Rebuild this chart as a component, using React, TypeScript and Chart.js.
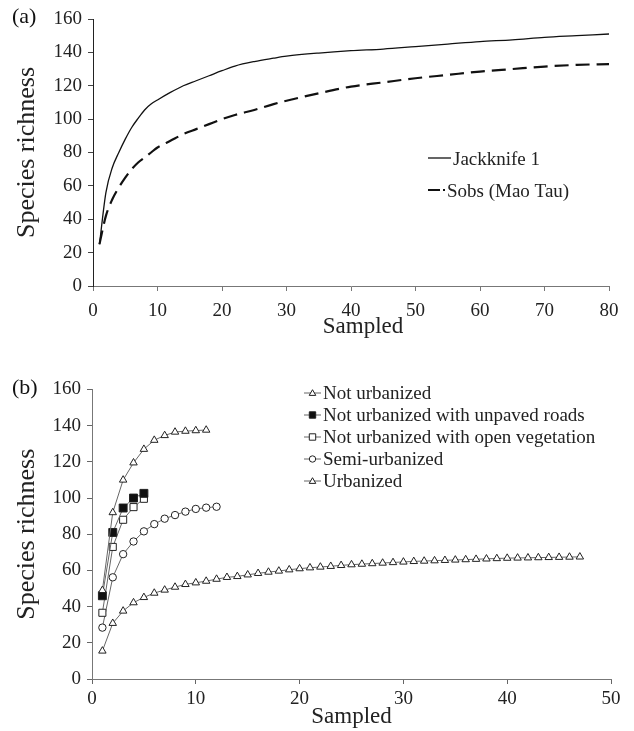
import React, { useEffect, useRef } from 'react';
import { Chart, registerables } from 'chart.js';
Chart.register(...registerables);

const FONT = "'Liberation Serif', 'Times New Roman', serif";

// ---------- Panel (a) ----------
const jackX = [1, 2, 3, 4, 5, 6, 7, 8, 9, 10, 12, 14, 16, 18, 20, 22, 25, 28, 30, 35, 40, 45, 50, 55, 60, 65, 70, 75, 80];
const jackY = [25, 56, 71, 80, 88, 95, 100.5, 105.5, 109, 111.5, 116, 120, 123, 126, 129, 131.8, 134.5, 136.5, 137.7, 139.6, 141, 142, 143.5, 145, 146.5, 147.5, 149, 150, 151];
const sobsX = [1, 2, 3, 4, 5, 6, 7, 8, 9, 10, 12, 14, 16, 18, 20, 22, 25, 28, 30, 35, 40, 45, 50, 55, 60, 65, 70, 75, 80];
const sobsY = [25, 42, 52, 59, 65, 70, 74, 77, 80, 83, 87, 91, 94, 97, 100, 102.5, 105.5, 109, 111, 115.5, 119.5, 122, 124.5, 126.5, 128.5, 130, 131.5, 132.5, 133];
const legendA = ['Jackknife 1', 'Sobs (Mao Tau)'];
const xTitle = 'Sampled';
const yTitle = 'Species richness';

// ---------- Panel (b) ----------
const notUrbX = [1, 2, 3, 4, 5, 6, 7, 8, 9, 10, 11];
const notUrbY = [49, 92, 110, 119.5, 127, 132, 134.6, 136.5, 137, 137.3, 137.6];
const unpavedX = [1, 2, 3, 4, 5];
const unpavedY = [46, 81, 94.5, 100, 102.6];
const openVegX = [1, 2, 3, 4, 5];
const openVegY = [36.6, 73, 88, 95, 99.6];
const semiX = [1, 2, 3, 4, 5, 6, 7, 8, 9, 10, 11, 12];
const semiY = [28.4, 56.2, 69, 76, 81.6, 85.6, 88.6, 90.6, 92.5, 94, 94.7, 95.2];
const urbX = [1, 2, 3, 4, 5, 6, 7, 8, 9, 10, 11, 12, 13, 14, 15, 16, 17, 18, 19, 20, 21, 22, 23, 24, 25, 26, 27, 28, 29, 30, 31, 32, 33, 34, 35, 36, 37, 38, 39, 40, 41, 42, 43, 44, 45, 46, 47];
const urbY = [15.5, 30.8, 37.6, 42.2, 45.1, 47.5, 49.2, 50.8, 52.3, 53.2, 54.1, 55.2, 56.2, 56.7, 57.6, 58.4, 59.1, 59.7, 60.4, 61, 61.5, 61.9, 62.3, 62.8, 63.2, 63.5, 63.8, 64.1, 64.4, 64.7, 65, 65.2, 65.4, 65.6, 65.8, 66, 66.2, 66.4, 66.6, 66.8, 66.9, 67, 67.1, 67.2, 67.3, 67.4, 67.5];
const legendB = [
  'Not urbanized',
  'Not urbanized with unpaved roads',
  'Not urbanized with open vegetation',
  'Semi-urbanized',
  'Urbanized',
];

const pts = (xs: number[], ys: number[]) => xs.map((x, i) => ({ x, y: ys[i] }));

function axisCommon(extra: any) {
  return {
    type: 'linear',
    ticks: { color: '#222', font: { family: FONT, size: 19 }, maxRotation: 0, ...extra.ticks },
    grid: { drawOnChartArea: false, drawTicks: true, tickLength: 5, color: '#666', ...extra.grid },
    border: { display: true, color: '#777', width: 1, ...extra.border },
    title: { display: true, color: '#222', font: { family: FONT, size: 23 }, ...extra.title },
    min: extra.min,
    max: extra.max,
    afterFit: extra.afterFit,
  };
}

function drawMarker(ctx: CanvasRenderingContext2D, kind: string, x: number, y: number, s: number, fill: string) {
  ctx.save();
  ctx.beginPath();
  if (kind === 'triangle') {
    ctx.moveTo(x, y - s);
    ctx.lineTo(x + s * 0.866, y + s * 0.5);
    ctx.lineTo(x - s * 0.866, y + s * 0.5);
    ctx.closePath();
  } else if (kind === 'rect') {
    ctx.rect(x - s, y - s, 2 * s, 2 * s);
  } else {
    ctx.arc(x, y, s, 0, Math.PI * 2);
  }
  ctx.fillStyle = fill;
  ctx.fill();
  ctx.strokeStyle = '#222';
  ctx.lineWidth = 1;
  ctx.stroke();
  ctx.restore();
}

export default function App() {
  const refA = useRef<HTMLCanvasElement>(null);
  const refB = useRef<HTMLCanvasElement>(null);

  useEffect(() => {
    const legendPluginA = {
      id: 'legendA',
      afterDraw(chart: any) {
        const ctx = chart.ctx as CanvasRenderingContext2D;
        const a = chart.chartArea;
        ctx.save();
        ctx.fillStyle = '#111';
        ctx.font = `22px ${FONT}`;
        ctx.textBaseline = 'middle';
        ctx.textAlign = 'left';
        ctx.fillText('(a)', 12, 17);
        // x axis title (slightly right of centre, as in the original)
        ctx.fillStyle = '#222';
        ctx.font = `23px ${FONT}`;
        ctx.textAlign = 'center';
        ctx.fillText(xTitle, (a.left + a.right) / 2 + 12, 327);
        ctx.textAlign = 'left';
        ctx.font = `19px ${FONT}`;
        // Jackknife
        const lx = a.left + 335;
        const y1 = a.top + 139;
        ctx.strokeStyle = '#111';
        ctx.lineWidth = 1.3;
        ctx.beginPath();
        ctx.moveTo(lx, y1);
        ctx.lineTo(lx + 23, y1);
        ctx.stroke();
        ctx.fillText(legendA[0], lx + 25, y1 + 2);
        const y2 = y1 + 32;
        ctx.lineWidth = 2.2;
        ctx.setLineDash([12, 3]);
        ctx.beginPath();
        ctx.moveTo(lx, y2);
        ctx.lineTo(lx + 17, y2);
        ctx.stroke();
        ctx.setLineDash([]);
        ctx.fillText(legendA[1], lx + 19, y2 + 2);
        ctx.restore();
      },
    };

    const chartA = new Chart(refA.current!, {
      type: 'line',
      data: {
        datasets: [
          {
            label: legendA[0],
            data: pts(jackX, jackY),
            borderColor: '#111',
            borderWidth: 1.3,
            pointRadius: 0,
            cubicInterpolationMode: 'monotone',
            fill: false,
          },
          {
            label: legendA[1],
            data: pts(sobsX, sobsY),
            borderColor: '#111',
            borderWidth: 2.2,
            borderDash: [14, 7],
            pointRadius: 0,
            cubicInterpolationMode: 'monotone',
            fill: false,
          },
        ],
      },
      options: {
        responsive: false,
        animation: false,
        layout: { padding: { top: 19, right: 25, left: 0, bottom: 0 } },
        plugins: { legend: { display: false }, tooltip: { enabled: false } },
        scales: {
          x: axisCommon({
            min: 0,
            max: 80,
            ticks: { stepSize: 10, padding: 9 },
            grid: { color: '#777' },
            border: { color: '#777' },
            title: { display: false },
            afterFit: (s: any) => { s.height = 74; },
          }),
          y: axisCommon({
            min: 0,
            max: 160,
            ticks: { stepSize: 20, padding: 6 },
            grid: { color: '#444' },
            border: { color: '#222' },
            title: { text: yTitle, font: { family: FONT, size: 26 }, padding: { top: 12, bottom: 0 } },
            afterFit: (s: any) => { s.width = 93; },
          }),
        },
      } as any,
      plugins: [legendPluginA],
    } as any);

    const styles = [
      { kind: 'triangle', fill: '#fff', r: 4.3 },
      { kind: 'rect', fill: '#111', r: 5.6 },
      { kind: 'rect', fill: '#fff', r: 5.0 },
      { kind: 'circle', fill: '#fff', r: 3.7 },
      { kind: 'triangle', fill: '#fff', r: 4.3 },
    ];

    const legendPluginB = {
      id: 'legendB',
      afterDraw(chart: any) {
        const ctx = chart.ctx as CanvasRenderingContext2D;
        ctx.save();
        ctx.fillStyle = '#111';
        ctx.font = `22px ${FONT}`;
        ctx.textBaseline = 'middle';
        ctx.textAlign = 'left';
        ctx.fillText('(b)', 12, 28);
        ctx.font = `19px ${FONT}`;
        ctx.fillStyle = '#222';
        const mx = 312.5;
        for (let i = 0; i < legendB.length; i++) {
          const y = 33 + i * 22;
          ctx.strokeStyle = '#666';
          ctx.lineWidth = 1;
          ctx.beginPath();
          ctx.moveTo(mx - 8.5, y);
          ctx.lineTo(mx + 8.5, y);
          ctx.stroke();
          const st = styles[i];
          const sz = st.kind === 'triangle' ? 3.8 : 3.2;
          drawMarker(ctx, st.kind, mx, st.kind === 'triangle' ? y + 0.5 : y, sz, st.fill);
          ctx.fillStyle = '#222';
          ctx.fillText(legendB[i], 323, y + 1);
        }
        ctx.restore();
      },
    };

    const series = [
      pts(notUrbX, notUrbY),
      pts(unpavedX, unpavedY),
      pts(openVegX, openVegY),
      pts(semiX, semiY),
      pts(urbX, urbY),
    ];

    const chartB = new Chart(refB.current!, {
      type: 'line',
      data: {
        datasets: series.map((d, i) => ({
          label: legendB[i],
          data: d,
          borderColor: '#666',
          borderWidth: 1,
          tension: 0,
          fill: false,
          pointStyle: styles[i].kind,
          pointRadius: styles[i].r,
          pointBackgroundColor: styles[i].fill,
          pointBorderColor: '#222',
          pointBorderWidth: 1,
        })),
      },
      options: {
        responsive: false,
        animation: false,
        layout: { padding: { top: 29.5, right: 23, left: 0, bottom: 0 } },
        plugins: { legend: { display: false }, tooltip: { enabled: false } },
        scales: {
          x: axisCommon({
            min: 0,
            max: 50,
            ticks: { stepSize: 10, padding: 4 },
            title: { text: xTitle, padding: { top: 0, bottom: 0 } },
            afterFit: (s: any) => { s.height = 52; },
          }),
          y: axisCommon({
            min: 0,
            max: 160,
            ticks: { stepSize: 20, padding: 6 },
            title: { text: yTitle, font: { family: FONT, size: 26 }, padding: { top: 12, bottom: 0 } },
            afterFit: (s: any) => { s.width = 92; },
          }),
        },
      } as any,
      plugins: [legendPluginB],
    } as any);

    return () => {
      chartA.destroy();
      chartB.destroy();
    };
  }, []);

  return (
    <div style={{ position: 'absolute', left: 0, top: 0, width: 634, height: 731, background: '#fff' }}>
      <canvas ref={refA} width={634} height={360} style={{ position: 'absolute', left: 0, top: 0 }} />
      <canvas ref={refB} width={634} height={371} style={{ position: 'absolute', left: 0, top: 360 }} />
    </div>
  );
}
